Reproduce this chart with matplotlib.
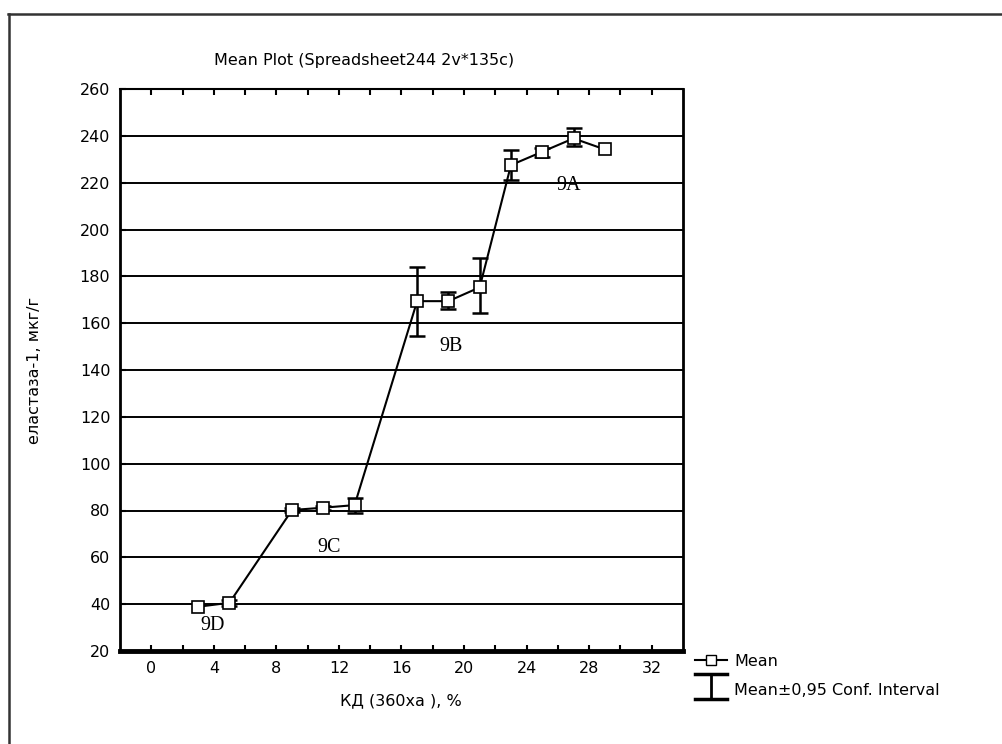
import matplotlib
matplotlib.use("Agg")
import matplotlib.pyplot as plt
from matplotlib.lines import Line2D
from matplotlib.legend_handler import HandlerBase
import numpy as np

kd = [3, 5, 9, 11, 13, 17, 19, 21, 23, 25, 27, 29]
mean = [38.9, 40.6, 80.2, 81.2, 82.3, 169.4, 169.4, 175.3, 227.5, 233.2, 238.9, 234.2]
ci_low = [38.9, 39.4, 79.4, 80.4, 78.8, 154.5, 165.9, 164.2, 221.1, 230.8, 235.6, 234.2]
ci_high = [38.9, 41.8, 81.0, 82.0, 85.2, 183.8, 173.4, 187.8, 233.9, 234.6, 243.2, 234.2]

group_labels = ["9D", "9C", "9B", "9A"]
group_label_pos = [(3.9, 31), (11.4, 64), (19.2, 150), (26.7, 219)]

xticks = [0, 4, 8, 12, 16, 20, 24, 28, 32]
yticks = [20, 40, 60, 80, 100, 120, 140, 160, 180, 200, 220, 240, 260]

plt.rcParams['font.family'] = ['DejaVu Sans']
FS = 11.5

fig = plt.figure(figsize=(10.02, 7.44), dpi=100)
W, H = 1002, 744
ax = fig.add_axes([120 / W, 1 - 651 / H, (683 - 120) / W, (651 - 89) / H])

# outer frame (top and left)
fig.add_artist(Line2D([8 / W, 1.0], [1 - 13.5 / H, 1 - 13.5 / H], color='#333333', lw=1.8))
fig.add_artist(Line2D([8.5 / W, 8.5 / W], [0, 1 - 13.5 / H], color='#333333', lw=1.8))

ax.set_xlim(-2, 34)
ax.set_ylim(20, 260)

for y in yticks[1:-1]:
    ax.axhline(y, color='black', lw=1.4, zorder=1)

x_arr = np.array(kd, dtype=float)
m = np.array(mean)
lo = np.array(ci_low)
hi = np.array(ci_high)
has_err = (hi - lo) > 0.01
ax.errorbar(x_arr[has_err], m[has_err], yerr=[(m - lo)[has_err], (hi - m)[has_err]],
            fmt='none', ecolor='black', elinewidth=1.8, capsize=6, capthick=1.8, zorder=3)
ax.plot(kd, mean, color='black', lw=1.5, marker='s', markersize=8,
        markerfacecolor='white', markeredgecolor='black', markeredgewidth=1.2, zorder=4)

for lab, (x, y) in zip(group_labels, group_label_pos):
    ax.text(x, y, lab, fontsize=14.5, family='Liberation Serif', ha='center', va='center')

ax.set_xticks(xticks)
ax.set_xticks(np.arange(0, 33, 2), minor=True)
ax.set_yticks(yticks)
ax.tick_params(axis='both', which='both', direction='in', length=4, width=1.5,
               labelsize=FS, top=True, right=False)
ax.tick_params(axis='x', which='major', pad=7)
ax.tick_params(axis='y', which='major', pad=7)
ax.tick_params(axis='x', which='minor', top=True)

ax.spines['left'].set_linewidth(2)
ax.spines['bottom'].set_linewidth(3.5)
ax.spines['right'].set_linewidth(2)
ax.spines['top'].set_linewidth(1.5)

fig.text(364 / W, 1 - 60 / H, "Mean Plot (Spreadsheet244 2v*135c)", fontsize=FS,
         ha='center', va='center')
fig.text(35 / W, 1 - 370 / H, "еластаза-1, мкг/г", fontsize=FS, rotation=90,
         ha='center', va='center')
fig.text(401 / W, 1 - 701 / H, "КД (360ха ), %", fontsize=FS, ha='center', va='center')


class CIHandle:
    pass


class HandlerCI(HandlerBase):
    def create_artists(self, legend, orig_handle, xdescent, ydescent, width, height,
                       fontsize, trans):
        cx = width / 2 - xdescent
        mid = height / 2 - ydescent
        top = mid + 10.5
        bot = mid - 7.0
        arts = [
            Line2D([cx, cx], [bot, top], color='black', lw=2, transform=trans),
            Line2D([-xdescent, width - xdescent], [top, top], color='black', lw=2.5,
                   transform=trans),
            Line2D([-xdescent, width - xdescent], [bot, bot], color='black', lw=2.5,
                   transform=trans),
        ]
        return arts


h1 = Line2D([], [], color='black', lw=1.5, marker='s', markersize=6.5,
            markerfacecolor='white', markeredgecolor='black')
h2 = CIHandle()
leg = fig.legend([h1, h2], ["Mean", "Mean±0,95 Conf. Interval"],
                 handler_map={CIHandle: HandlerCI()},
                 loc='upper left', bbox_to_anchor=(695 / W, 1 - 654 / H),
                 frameon=False, fontsize=FS, handlelength=2.0, handletextpad=0.45,
                 labelspacing=0.85, borderaxespad=0, borderpad=0)

fig.savefig("out.png", dpi=100, facecolor='white')
